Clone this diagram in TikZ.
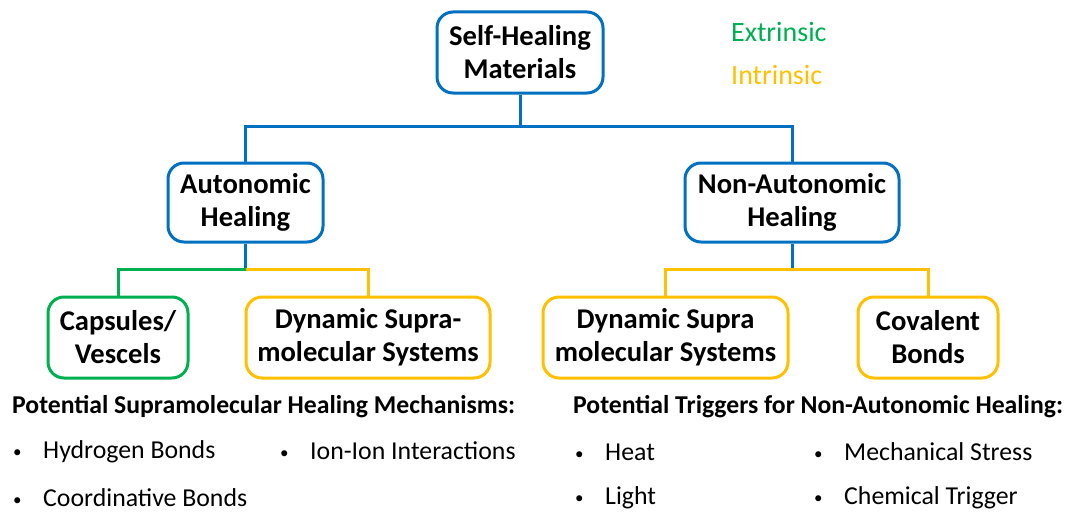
\documentclass[tikz,border=0pt]{standalone}
\usepackage{fontspec}
\setmainfont{Carlito}
\definecolor{cblue}{HTML}{0070C0}
\definecolor{cgreen}{HTML}{00B050}
\definecolor{cyellow}{HTML}{FFC000}
\newcommand{\smallbullet}{\makebox[31pt][l]{\hspace{1pt}\raisebox{1pt}{\fontsize{17}{17}\selectfont\textbullet}}}
\begin{document}
\begin{tikzpicture}[x=1pt,y=-1pt,
  box/.style={draw, line width=3pt, rounded corners=16pt, align=center, inner sep=0pt,
    font=\fontsize{28.6}{33}\selectfont\bfseries, text=black},
  bluebox/.style={box, draw=cblue},
  greenbox/.style={box, draw=cgreen},
  yellowbox/.style={box, draw=cyellow},
  conn/.style={line width=3pt},
  legend/.style={anchor=west, inner sep=0pt, font=\fontsize{28}{30}\selectfont},
  heading/.style={anchor=west, inner sep=0pt, font=\fontsize{25.7}{30}\selectfont\bfseries},
  item/.style={anchor=west, inner sep=0pt, font=\fontsize{25.8}{30}\selectfont}
]
\useasboundingbox (0,0) rectangle (1067,511);

% boxes
\node[bluebox, minimum width=166pt, minimum height=81pt] (top) at (520,52.5) {Self-Healing\\Materials};
\node[bluebox, minimum width=155pt, minimum height=79pt] (auto) at (245.5,202.5) {Autonomic\\Healing};
\node[bluebox, minimum width=214pt, minimum height=79pt] (nonauto) at (792,202.5) {Non-Autonomic\\Healing};
\node[greenbox, minimum width=140pt, minimum height=81pt] (caps) at (118,337.5) {Capsules/\\Vescels};
\node[yellowbox, minimum width=244pt, minimum height=81pt] (dyn1) at (368,337.5) {Dynamic Supra-\\molecular Systems};
\node[yellowbox, minimum width=245pt, minimum height=81pt] (dyn2) at (665.5,337.5) {Dynamic Supra\\molecular Systems};
\node[yellowbox, minimum width=140pt, minimum height=81pt] (cov) at (928,337.5) {Covalent\\Bonds};

% legend
\node[legend, text=cgreen] (ext) at (731,32) {Extrinsic};
\node[legend, text=cyellow] (int) at (731,75) {Intrinsic};

% connectors
\coordinate (j1) at (520,126);
\coordinate (j2) at (245.5,269);
\coordinate (j3) at (792,269);
\draw[conn, cblue] (top.south) -- (j1);
\draw[conn, cblue] (auto.north) |- (j1) -| (nonauto.north);
\draw[conn, cblue] (auto.south) -- (j2);
\draw[conn, cgreen] (j2) -| (caps.north);
\draw[conn, cyellow] (j2) -| (dyn1.north);
\draw[conn, cblue] (nonauto.south) -- (j3);
\draw[conn, cyellow] (dyn2.north) |- (j3) -| (cov.north);

% bottom texts
\node[heading] (h1) at (12,407) {Potential Supramolecular Healing Mechanisms:};
\node[heading] (h2) at (573,407) {Potential Triggers for Non-Autonomic Healing:};

\node[item] (b1) at (12,452) {\smallbullet Hydrogen Bonds};
\node[item] (b2) at (12,498) {\smallbullet Coordinative Bonds};
\node[item] (b3) at (279,451) {\smallbullet Ion-Ion Interactions};
\node[item] (b4) at (574,452) {\smallbullet Heat};
\node[item] (b5) at (574,498) {\smallbullet Light};
\node[item] (b6) at (813,452) {\smallbullet Mechanical Stress};
\node[item] (b7) at (813,498) {\smallbullet Chemical Trigger};
\end{tikzpicture}
\end{document}
